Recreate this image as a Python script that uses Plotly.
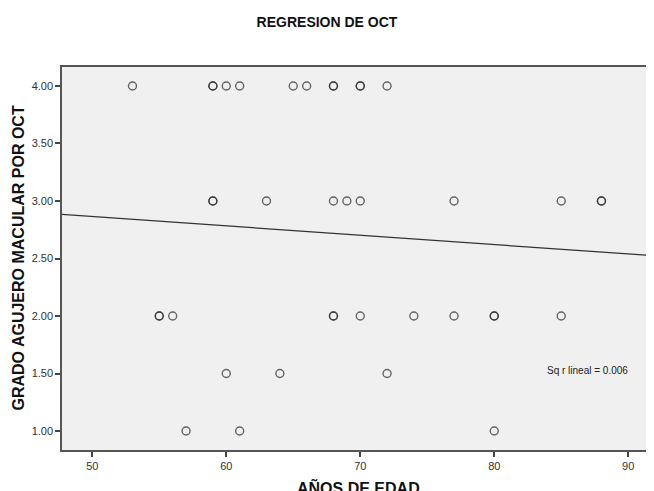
import plotly.graph_objects as go

# Data (duplicates represent darker, overlapping points)
edad = [53, 59, 59, 60, 61, 65, 66, 68, 68, 70, 70, 72,
        59, 59, 63, 68, 69, 70, 77, 85, 88, 88,
        55, 55, 56, 68, 68, 70, 74, 77, 80, 80, 85,
        60, 64, 72,
        57, 61, 80]
grado = [4.0] * 12 + [3.0] * 10 + [2.0] * 11 + [1.5] * 3 + [1.0] * 3

# Fit line as drawn in the reference
intercept = 3.273
slope = -0.00815
r2_text = "Sq r lineal = 0.006"

x_ticks = [50, 60, 70, 80, 90]
y_ticks = [1.0, 1.5, 2.0, 2.5, 3.0, 3.5, 4.0]
x_range = [47.74, 92.52]
y_range = [0.835, 4.165]

line_x = list(x_range)
line_y = [intercept + slope * v for v in line_x]

fig = go.Figure()
fig.add_trace(go.Scatter(
    x=line_x, y=line_y, mode="lines",
    line=dict(color="#333333", width=1.2), hoverinfo="skip", showlegend=False))
fig.add_trace(go.Scatter(
    x=edad, y=grado, mode="markers",
    marker=dict(symbol="circle-open", size=8,
                line=dict(color="rgba(40,40,40,0.7)", width=1.4),
                color="rgba(40,40,40,0.7)"),
    showlegend=False))

fig.add_annotation(x=0.9467, y=1.525, xref="paper", yref="y",
                   text=r2_text, showarrow=False,
                   xanchor="right", yanchor="middle",
                   font=dict(family="Liberation Sans, Arial", size=10, color="#222222"))

# Axis titles as annotations for exact placement
fig.add_annotation(x=(358 - 62) / 600, y=-0.097, xref="paper", yref="paper",
                   text="<b>AÑOS DE EDAD</b>", showarrow=False,
                   xanchor="center", yanchor="middle",
                   font=dict(family="Liberation Sans, Arial", size=16, color="#111111"))
fig.add_annotation(x=-0.0733, y=0.5, xref="paper", yref="paper",
                   text="<b>GRADO AGUJERO MACULAR POR OCT</b>", showarrow=False,
                   textangle=-90, xanchor="center", yanchor="middle",
                   font=dict(family="Liberation Sans, Arial", size=16, color="#111111"))

fig.update_layout(
    width=654, height=491,
    margin=dict(l=54, r=0, t=59, b=49, autoexpand=False),
    paper_bgcolor="white", plot_bgcolor="#F0F0F0",
    title=dict(text="<b>REGRESION DE OCT</b>", x=(327 - 8) / 654, xanchor="center",
               xref="container", y=1 - 14 / 491, yref="container", yanchor="middle",
               font=dict(family="Liberation Sans, Arial", size=14, color="#111111")),
    font=dict(family="Liberation Sans, Arial", size=11, color="#333333"),
)
fig.update_xaxes(range=x_range, tickvals=x_ticks, ticks="outside", ticklen=5,
                 tickwidth=1.5, tickcolor="#444444", automargin=False,
                 showgrid=False, zeroline=False,
                 showline=True, linecolor="#555555", linewidth=1.5, mirror=True,
                 tickfont=dict(size=11, color="#333333"))
fig.update_yaxes(range=y_range, tickvals=y_ticks, tickformat=".2f",
                 ticks="outside", ticklen=5, tickwidth=1.5, tickcolor="#444444",
                 automargin=False,
                 showgrid=False, zeroline=False,
                 showline=True, linecolor="#555555", linewidth=1.5, mirror=True,
                 tickfont=dict(size=11, color="#333333"))

fig.write_html("out.html")
